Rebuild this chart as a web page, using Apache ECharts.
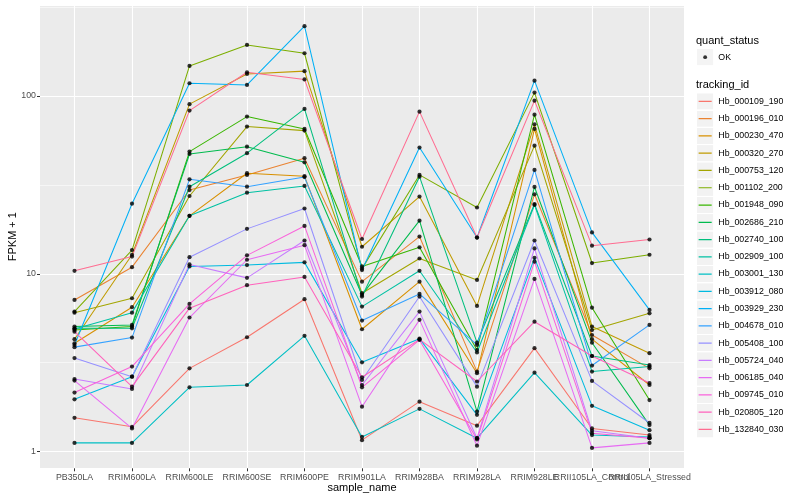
<!DOCTYPE html>
<html>
<head>
<meta charset="utf-8">
<script src="https://cdn.jsdelivr.net/npm/echarts@6/dist/echarts.min.js"></script>
<style>html,body{margin:0;padding:0;background:#fff}#chart{width:800px;height:500px}</style>
</head>
<body>
<div id="chart"></div>
<script>
// ---- data ----
const categories = ["PB350LA","RRIM600LA","RRIM600LE","RRIM600SE","RRIM600PE","RRIM901LA","RRIM928BA","RRIM928LA","RRIM928LE","RRII105LA_Control","RRII105LA_Stressed"];
const trackingIds = ["Hb_000109_190","Hb_000196_010","Hb_000230_470","Hb_000320_270","Hb_000753_120","Hb_001102_200","Hb_001948_090","Hb_002686_210","Hb_002740_100","Hb_002909_100","Hb_003001_130","Hb_003912_080","Hb_003929_230","Hb_004678_010","Hb_005408_100","Hb_005724_040","Hb_006185_040","Hb_009745_010","Hb_020805_120","Hb_132840_030"];
const yTickLabels = [1, 10, 100];
const quantStatus = ["OK"];

const hb_000109_190 = [1.55, 1.38, 2.94, 4.40, 7.20, 1.16, 1.91, 1.40, 3.82, 1.35, 1.24];
const hb_000196_010 = [7.13, 10.9, 29.6, 36.0, 44.7, 9.04, 16.2, 2.82, 28.0, 4.53, 2.94];
const hb_000230_470 = [4.07, 6.49, 21.2, 36.8, 35.4, 4.88, 9.04, 2.76, 65.3, 4.29, 2.37];
const hb_000320_270 = [4.29, 12.8, 90.0, 133, 138, 14.2, 27.2, 6.60, 69.3, 5.05, 3.58];
const hb_000753_120 = [6.05, 7.29, 27.4, 67.3, 63.9, 7.78, 12.2, 9.24, 52.6, 4.83, 6.00];
const hb_001102_200 = [6.13, 13.6, 147.6, 193.8, 174, 10.7, 36.0, 23.6, 104.5, 11.5, 12.8];
const hb_001948_090 = [4.83, 5.05, 48.7, 76.6, 65.3, 11.0, 14.1, 3.73, 78.5, 6.45, 1.95];
const hb_002686_210 = [5.05, 5.16, 47.2, 51.9, 42.4, 7.61, 19.9, 1.68, 30.8, 4.10, 1.41];
const hb_002740_100 = [4.94, 4.94, 30.9, 47.7, 84.6, 7.45, 35.2, 4.10, 24.7, 3.45, 3.07];
const hb_002909_100 = [4.90, 6.05, 21.2, 28.6, 31.2, 6.54, 10.4, 3.61, 24.4, 2.82, 3.01];
const hb_003001_130 = [1.12, 1.12, 2.30, 2.37, 4.48, 1.21, 1.74, 1.19, 2.78, 1.24, 1.21];
const hb_003912_080 = [1.97, 2.64, 11.0, 11.2, 11.6, 3.18, 4.32, 1.61, 12.3, 1.81, 1.32];
const hb_003929_230 = [3.98, 24.8, 118, 115.4, 247, 10.5, 51.3, 16.0, 122, 17.1, 6.27];
const hb_004678_010 = [3.87, 4.38, 34.0, 30.9, 35.0, 5.46, 7.71, 3.98, 38.4, 3.05, 5.16];
const hb_005408_100 = [3.36, 2.64, 12.4, 17.9, 23.3, 2.53, 7.45, 2.32, 15.4, 2.50, 1.45];
const hb_005724_040 = [2.56, 2.25, 11.3, 9.49, 15.4, 2.37, 6.13, 1.19, 13.9, 1.31, 1.19];
const hb_006185_040 = [2.51, 1.35, 5.68, 12.0, 14.5, 1.79, 5.51, 1.08, 9.36, 1.05, 1.12];
const hb_009745_010 = [2.15, 3.01, 6.77, 12.7, 18.6, 2.30, 4.25, 1.17, 11.7, 1.27, 1.19];
const hb_020805_120 = [4.73, 2.32, 6.41, 8.63, 9.61, 2.62, 4.28, 2.48, 5.38, 3.45, 2.43];
const hb_132840_030 = [10.4, 12.5, 82.8, 136, 124, 15.7, 81.7, 16.0, 94.2, 14.4, 15.6];

const seriesValues = [hb_000109_190, hb_000196_010, hb_000230_470, hb_000320_270, hb_000753_120,
  hb_001102_200, hb_001948_090, hb_002686_210, hb_002740_100, hb_002909_100,
  hb_003001_130, hb_003912_080, hb_003929_230, hb_004678_010, hb_005408_100,
  hb_005724_040, hb_006185_040, hb_009745_010, hb_020805_120, hb_132840_030];

// ---- styles ----
const palette = ["#F8766D","#EA8331","#D89000","#C09B00","#A3A500","#7CAE00","#39B600","#00BB4E","#00BF7D","#00C1A3","#00BFC4","#00BAE0","#00B0F6","#35A2FF","#9590FF","#C77CFF","#E76BF3","#FA62DB","#FF62BC","#FF6C91"];
const FONT = "'Liberation Sans', Arial, Helvetica, sans-serif";
const Y_MIN = 0.806, Y_MAX = 325;
const X_EXPAND = 0.6;                 // ggplot discrete-axis expansion, in category units
const HALF_DECADE = Math.sqrt(10);    // minor grid lines sit half a decade between major ones

function svgIcon(inner) {
  const svg = '<svg xmlns="http://www.w3.org/2000/svg" width="17" height="17"><rect x="0" y="0" width="17" height="17" fill="#F2F2F2"/>' + inner + '</svg>';
  return 'image://data:image/svg+xml;charset=utf-8,' + encodeURIComponent(svg);
}
const lineKey = c => svgIcon('<line x1="1.7" y1="8.5" x2="15.3" y2="8.5" stroke="' + c + '" stroke-width="1.3"/>');
const pointKey = svgIcon('<circle cx="8.5" cy="8.5" r="2" fill="#000"/>');

const chart = echarts.init(document.getElementById('chart'), null, {renderer: 'canvas'});

// all marks live in grid 0: x = category index on a value axis, y = FPKM + 1 on a log axis
const lineSeries = trackingIds.map((id, s) => ({
  name: id, type: 'line', xAxisIndex: 0, yAxisIndex: 0,
  data: seriesValues[s].map((v, i) => [i, v]), showSymbol: false, symbol: 'none',
  lineStyle: {color: palette[s], width: 1.05}, itemStyle: {color: palette[s]},
  silent: true, z: 3
}));

const pointData = [];
seriesValues.forEach(arr => arr.forEach((v, i) => pointData.push([i, v])));

const option = {
  animation: false,
  backgroundColor: '#fff',
  title: [
    {text: 'quant_status', left: 696, top: 35, padding: 0, textStyle: {fontSize: 11, fontWeight: 'normal', color: '#000', fontFamily: FONT}},
    {text: 'tracking_id', left: 696, top: 79, padding: 0, textStyle: {fontSize: 11, fontWeight: 'normal', color: '#000', fontFamily: FONT}}
  ],
  legend: [
    {left: 697, top: 49, orient: 'vertical', padding: 0, itemWidth: 16.3, itemHeight: 16.3, itemGap: 1,
     selectedMode: false, textStyle: {fontSize: 8.8, color: '#000', fontFamily: FONT},
     data: quantStatus.map(n => ({name: n, icon: pointKey}))},
    {left: 697, top: 93.3, orient: 'vertical', padding: 0, itemWidth: 16.3, itemHeight: 16.3, itemGap: 0.96,
     selectedMode: false, textStyle: {fontSize: 8.8, color: '#000', fontFamily: FONT},
     data: trackingIds.map((n, s) => ({name: n, icon: lineKey(palette[s])}))}
  ],
  grid: [
    // the grey panel
    {left: 40, right: 116, top: 5, bottom: 31.7, show: true, backgroundColor: '#EBEBEB', borderWidth: 0,
     containLabel: false, outerBoundsMode: 'none'},
    // same height, spanning first to last category: carries the category labels, ticks and vertical grid lines
    {left: 74.5, right: 150.5, top: 5, bottom: 31.7, show: false, containLabel: false, outerBoundsMode: 'none'}
  ],
  xAxis: [
    {type: 'value', gridIndex: 0, show: false, min: -X_EXPAND, max: categories.length - 1 + X_EXPAND,
     axisLine: {onZero: false}},
    {type: 'category', gridIndex: 1, data: categories, boundaryGap: false,
     axisLine: {show: false, onZero: false},
     axisTick: {show: true, length: 3, lineStyle: {color: '#333', width: 1}, interval: 0},
     axisLabel: {interval: 0, margin: 5, fontSize: 8.8, color: '#4D4D4D', fontFamily: FONT, hideOverlap: false},
     splitLine: {show: true, interval: 0, lineStyle: {color: '#fff', width: 1.1}},
     name: 'sample_name', nameLocation: 'middle', nameGap: 14, nameMoveOverlap: false,
     nameTextStyle: {fontSize: 11, color: '#000', fontFamily: FONT}}
  ],
  yAxis: [
    {type: 'log', gridIndex: 0, logBase: 10, min: Y_MIN, max: Y_MAX, position: 'left',
     axisLine: {show: false, onZero: false},
     axisTick: {show: true, length: 3, lineStyle: {color: '#333', width: 1}},
     axisLabel: {margin: 4, fontSize: 8.8, color: '#4D4D4D', fontFamily: FONT, showMinLabel: false, showMaxLabel: false,
       formatter: v => (yTickLabels.indexOf(Math.round(v * 1000) / 1000) >= 0 ? String(Math.round(v)) : '')},
     splitLine: {show: true, lineStyle: {color: '#fff', width: 1.1}},
     name: 'FPKM + 1', nameLocation: 'middle', nameGap: 22, nameRotate: 90, nameMoveOverlap: false,
     nameTextStyle: {fontSize: 11, color: '#000', fontFamily: FONT}},
    {type: 'value', gridIndex: 1, min: 0, max: 1, show: false, splitLine: {show: false}, axisLine: {onZero: false}},
    // minor grid: same scale shifted by half a decade, so its decade lines fall on the minor breaks
    {type: 'log', gridIndex: 0, logBase: 10, min: Y_MIN / HALF_DECADE, max: Y_MAX / HALF_DECADE, position: 'right',
     axisLine: {show: false, onZero: false}, axisTick: {show: false}, axisLabel: {show: false},
     splitLine: {show: true, lineStyle: {color: '#fff', width: 0.55}}}
  ],
  series: lineSeries.concat([
    {name: 'OK', type: 'scatter', xAxisIndex: 0, yAxisIndex: 0, data: pointData,
     symbol: 'circle', symbolSize: 4.2, itemStyle: {color: '#000'}, silent: true, z: 10}
  ])
};
chart.setOption(option);
</script>
</body>
</html>
